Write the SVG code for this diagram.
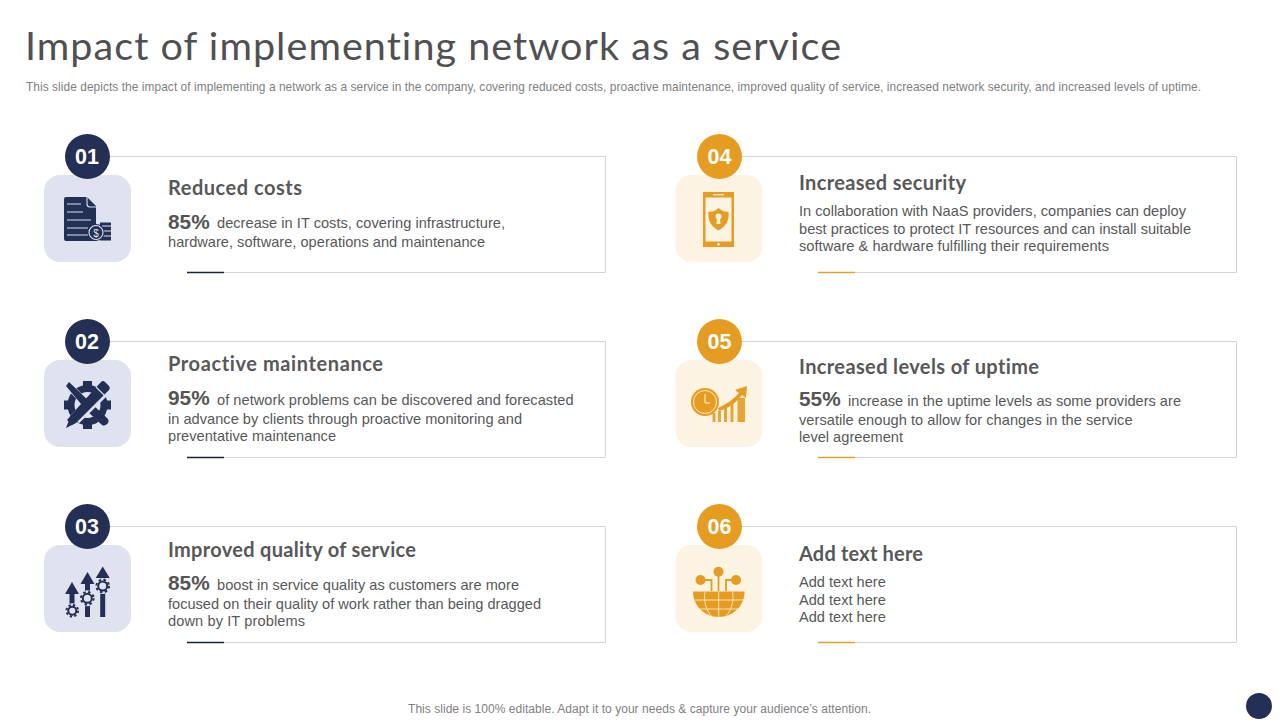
<svg xmlns="http://www.w3.org/2000/svg" width="1280" height="720" viewBox="0 0 1280 720">
<defs><style>
text{font-variant-ligatures:none}
.t{font-family:"Liberation Sans",Arial,sans-serif;fill:#58585a}
.body{font-size:14.6px}
.pct{font-size:20.800px;font-weight:700;fill:#545456}
.h{font-family:Lato,"Liberation Sans",sans-serif;font-size:20px;font-weight:700;fill:#58585a}
.num{font-family:"Liberation Sans",Arial,sans-serif;font-size:21.500px;font-weight:700;fill:#fff;text-anchor:middle}
.card{fill:none;stroke:#d2d3d6;stroke-width:1}
.navy{fill:#232f55}.gold{fill:#e59c20}
.tn{fill:#dfe3ef}.tg{fill:#fdf3e3}
.wn{stroke:#dfe3ef;fill:none;stroke-width:1.1}
.wg{stroke:#fdf3e3;fill:none;stroke-width:.8}
.dk{stroke:#1c2236;stroke-width:1.300}.yl{stroke:#e3a22c;stroke-width:1.300}
.teeth{fill:none;stroke:#232f55;stroke-width:2}
</style></defs>
<rect width="1280" height="720" fill="#fff"/>
<text x="25" y="60" font-family="Lato,'Open Sans',sans-serif" font-size="39.500" font-weight="400" fill="#505052" textLength="816">Impact of implementing network as a service</text>
<text x="26" y="91" class="t" font-size="11.900" style="fill:#808082" textLength="1175">This slide depicts the impact of implementing a network as a service in the company, covering reduced costs, proactive maintenance, improved quality of service, increased network security, and increased levels of uptime.</text>

<g id="connectors">
<path class="card" d="M110 156.500H605.500V272.500H187"/><path class="dk" d="M187 272.500H224"/>
<path class="card" d="M110 341.500H605.500V457.500H187"/><path class="dk" d="M187 457.500H224"/>
<path class="card" d="M110 526.500H605.500V642.500H187"/><path class="dk" d="M187 642.500H224"/>
<path class="card" d="M742 156.500H1236.500V272.500H818"/><path class="yl" d="M818 272.500H855"/>
<path class="card" d="M742 341.500H1236.500V457.500H818"/><path class="yl" d="M818 457.500H855"/>
<path class="card" d="M742 526.500H1236.500V642.500H818"/><path class="yl" d="M818 642.500H855"/>
</g>

<g id="node-01">
<rect class="tn" x="44" y="175" width="87" height="87" rx="16"/>
<circle class="navy" cx="87.500" cy="156.500" r="22.500"/><text class="num" x="87" y="163.800">01</text>
<path class="navy" d="M64 199a2 2 0 0 1 2-2H87L96 206V241H66a2 2 0 0 1-2-2Z"/>
<path class="navy" d="M100 222.500H111V240.500H100Z"/>
<path d="M87 197V204a3 3 0 0 0 3 3H96M67 204H81M67 212H83M67 220H91M67 228H88M67 235H88M102 226H111M102 231H111M102 236H111" class="wn"/>
<circle class="navy" cx="96" cy="232.500" r="8.500"/><circle cx="96" cy="232.500" r="7" class="wn"/>
<text x="96" y="236.500" font-family="Liberation Sans,sans-serif" font-size="10" fill="#dfe3ef" text-anchor="middle">$</text>
<text class="h" x="168" y="194.500" textLength="134">Reduced costs</text>
<text class="t pct" x="168" y="229">85%</text>
<text class="t body" x="217" y="228" textLength="288">decrease in IT costs, covering infrastructure,</text>
<text class="t body" x="168" y="247" textLength="317">hardware, software, operations and maintenance</text>
</g>

<g id="node-02">
<rect class="tn" x="44" y="360" width="87" height="87" rx="16"/>
<circle class="navy" cx="87.500" cy="341.500" r="22.500"/><text class="num" x="87" y="348.800">02</text>
<circle cx="87.500" cy="405" r="16.500" fill="none" stroke="#232f55" stroke-width="7"/>
<path class="navy" d="M83 381H92V389H83ZM83 421H92V429H83ZM64 400.500H71V409.500H64ZM104 400.500H111V409.500H104ZM103 414L108 420 103 425 97 420ZM72 414L67 420 72 425 78 420Z"/>
<path d="M67 384L105 423" stroke="#dfe3ef" stroke-width="7.500" fill="none"/>
<path class="navy" d="M66 386L69 382 92 404 108 419a4.500 4.500 0 0 1-6 6L86 410Z"/>
<path d="M108 387L75 419" stroke="#dfe3ef" stroke-width="11.500" fill="none"/>
<path class="navy" d="M101 382a3 3 0 0 1 4 0l4 4a3 3 0 0 1 0 4L76 423 66 428 71 415Z"/>
<path d="M96 387L104.500 395.500" class="wn"/>
<text class="h" x="168" y="371" textLength="215">Proactive maintenance</text>
<text class="t pct" x="168" y="405">95%</text>
<text class="t body" x="217" y="405" textLength="356.500">of network problems can be discovered and forecasted</text>
<text class="t body" x="168" y="424" textLength="354">in advance by clients through proactive monitoring and</text>
<text class="t body" x="168" y="441" textLength="168">preventative  maintenance</text>
</g>

<g id="node-03">
<rect class="tn" x="44" y="545" width="87" height="87" rx="16"/>
<circle class="navy" cx="87.500" cy="526.500" r="22.500"/><text class="num" x="87" y="533.800">03</text>
<path class="navy" d="M72 582L79 594H74.500V608H69.500V594H65ZM87.500 572L94.500 584H90V617H85V584H80.500ZM102.700 566.500L109.700 578H105.200V617H100.200V578H95.700Z"/>
<g fill="#dfe3ef"><circle cx="72.300" cy="610.700" r="7.500"/><circle cx="87.300" cy="598.300" r="8"/><circle cx="102.700" cy="586" r="8"/></g>
<g class="teeth"><circle cx="72.300" cy="610.700" r="5.800" stroke-dasharray="2.300 2.250"/><circle cx="87.300" cy="598.300" r="6.300" stroke-dasharray="2.500 2.450"/><circle cx="102.700" cy="586" r="6.300" stroke-dasharray="2.500 2.450"/>
<circle cx="72.300" cy="610.700" r="4"/><circle cx="87.300" cy="598.300" r="4.500"/><circle cx="102.700" cy="586" r="4.500"/></g>
<text class="h" x="168" y="556.500" textLength="248">Improved quality of service</text>
<text class="t pct" x="168" y="590">85%</text>
<text class="t body" x="217" y="590" textLength="302">boost in service quality  as customers are more</text>
<text class="t body" x="168" y="609" textLength="373">focused on their quality  of work rather than being dragged</text>
<text class="t body" x="168" y="626" textLength="137">down by IT problems</text>
</g>

<g id="node-04">
<rect class="tg" x="675.500" y="175" width="87" height="87" rx="16"/>
<circle class="gold" cx="719.500" cy="156.500" r="22.500"/><text class="num" x="719.500" y="163.800">04</text>
<path class="gold" fill-rule="evenodd" d="M703 192H734V247H703ZM705.500 197.500V241.500H731.500V197.500Z"/>
<path d="M713 194.700H724" stroke="#fdf3e3" stroke-width="1.200"/><circle cx="718.500" cy="244.300" r="1.300" fill="#fdf3e3"/>
<path class="gold" d="M718.500 208C722 211 725 212 728.500 212C729.500 221 726 226 718.500 230.500C711 226 707.500 221 708.500 212C712 212 715 211 718.500 208Z"/>
<circle cx="718.500" cy="216.500" r="3" fill="#fdf3e3"/><path d="M717.200 217H719.800L720.500 224H716.500Z" fill="#fdf3e3"/>
<text class="h" x="799" y="189.500" textLength="167">Increased security</text>
<text class="t body" x="799" y="216" textLength="387">In collaboration with NaaS providers, companies can deploy</text>
<text class="t body" x="799" y="234" textLength="392">best practices to protect IT resources and can install suitable</text>
<text class="t body" x="799" y="251" textLength="310">software &amp; hardware fulfilling  their requirements</text>
</g>

<g id="node-05">
<rect class="tg" x="675.500" y="360" width="87" height="87" rx="16"/>
<circle class="gold" cx="719.500" cy="341.500" r="22.500"/><text class="num" x="719.500" y="348.800">05</text>
<circle class="gold" cx="705" cy="402" r="14"/><circle cx="705" cy="402" r="11.500" fill="none" stroke="#fdf3e3" stroke-width=".9"/>
<path d="M705 394V403H710" stroke="#fdf3e3" stroke-width="1" fill="none"/>
<path class="gold" d="M712.500 413H715.500V422H712.500ZM718 411H721V422H718ZM724 407H727V422H724ZM730.500 403H733.500V422H730.500ZM737.500 398H745V422H737.500Z" opacity=".9"/>
<path class="gold" d="M718 408C727 404 734 399 739 393L735 390 747 386 746 398 742 395C737 402 729 408 719 411Z"/>
<text class="h" x="799" y="373.500" textLength="240">Increased levels of uptime</text>
<text class="t pct" x="799" y="406">55%</text>
<text class="t body" x="848" y="406" textLength="333">increase in the uptime levels as some providers are</text>
<text class="t body" x="799" y="425" textLength="333.500">versatile enough to allow for changes in the service</text>
<text class="t body" x="799" y="442" textLength="104">level agreement</text>
</g>

<g id="node-06">
<rect class="tg" x="675.500" y="545" width="87" height="87" rx="16"/>
<circle class="gold" cx="719.500" cy="526.500" r="22.500"/><text class="num" x="719.500" y="533.800">06</text>
<path class="gold" d="M693 591.500H744.500C744.500 606 733 617 718.700 617C704.500 617 693 606 693 591.500Z"/>
<path class="wg" d="M718.700 591.500V617M695 600H743M699.500 609H738M705 591.500C703 602 707 612 712 616.500M732.500 591.500C734.500 602 730.500 612 725.500 616.500"/>
<g fill="none" stroke="#e59c20" stroke-width="1.800"><path d="M718.500 575V591M702 580H711.500V591M735 580H726V591"/></g>
<g class="gold"><circle cx="718.500" cy="571.700" r="5"/><circle cx="700.500" cy="580" r="5"/><circle cx="736" cy="580" r="5"/></g>
<text class="h" x="799" y="560.500" textLength="124">Add text here</text>
<text class="t body" x="799" y="587">Add text here</text>
<text class="t body" x="799" y="605">Add text here</text>
<text class="t body" x="799" y="622">Add text here</text>
</g>

<text x="408" y="713" class="t" font-size="12" style="fill:#808082" textLength="463">This slide is 100% editable. Adapt it to your needs &amp; capture your audience’s attention.</text>
<circle cx="1259" cy="706" r="13" fill="#232f55"/>
</svg>
